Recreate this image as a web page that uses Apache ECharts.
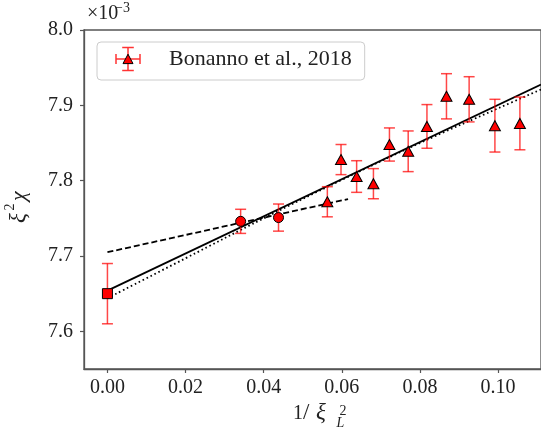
<!DOCTYPE html>
<html>
<head>
<meta charset="utf-8">
<script src="https://cdn.jsdelivr.net/npm/echarts@6/dist/echarts.min.js"></script>
<style>
  html, body { margin: 0; padding: 0; background: #fff; }
  #chart { width: 541px; height: 438px; }
</style>
</head>
<body>
<div id="chart"></div>
<script>
// Continuum point (square), finite-size points from this work (circles)
var squareX = [0];
var squareY = [7.650];
var squareErr = [0.040];

var circleX = [0.0341, 0.0438];
var circleY = [7.746, 7.751];
var circleErr = [0.016, 0.018];

// Bonanno et al., 2018 (triangles)
var triX = [0.0563, 0.0598, 0.0638, 0.0681, 0.0722, 0.0770, 0.0818, 0.0868, 0.0926, 0.0992, 0.1056];
var triY = [7.772, 7.828, 7.8055, 7.796, 7.848, 7.839, 7.872, 7.912, 7.908, 7.873, 7.876];
var triErr = [0.020, 0.020, 0.021, 0.020, 0.022, 0.027, 0.029, 0.030, 0.030, 0.035, 0.035];

// Fit curves
var linFitX = [0, 0.111];
var linFitY = [7.654, 7.9277];
var shortFitX = [0, 0.0616];
var shortFitY = [7.705, 7.7756];
var quadFitX = [0, 0.02, 0.04, 0.06, 0.08, 0.10, 0.111];
var quadFitY = [7.644, 7.697, 7.750, 7.801, 7.850, 7.896, 7.921];

// Axis ticks
var xTicks = [0, 0.02, 0.04, 0.06, 0.08, 0.10];
var xTickLabels = ['0.00', '0.02', '0.04', '0.06', '0.08', '0.10'];
var yTicks = [7.6, 7.7, 7.8, 7.9, 8.0];
var yTickLabels = ['7.6', '7.7', '7.8', '7.9', '8.0'];

var legendName = 'Bonanno et al., 2018';

function zip3(a, b, c) {
  return a.map(function (v, i) { return [v, b[i], c[i]]; });
}
function zip2(a, b) {
  return a.map(function (v, i) { return [v, b[i]]; });
}
function labelFor(ticks, labels) {
  return function (v) {
    for (var i = 0; i < ticks.length; i++) {
      if (Math.abs(ticks[i] - v) < 1e-9) return labels[i];
    }
    return '';
  };
}

var SERIF = 'Liberation Serif';
var TEXT_COLOR = '#222';
var ERR_COLOR = 'rgba(255,0,0,0.72)';
var AXIS_COLOR = '#555';

// Text placed by its baseline: canvas "middle" sits about 0.34em above it
function glyph(txt, x, baseline, size, italic) {
  return {
    type: 'text', x: x, y: baseline - 0.34 * size,
    style: {
      text: txt, fill: TEXT_COLOR, verticalAlign: 'middle', align: 'left',
      font: (italic ? 'italic ' : '') + size + 'px ' + SERIF
    }
  };
}

function renderErrorBar(params, api) {
  var x = api.value(0), y = api.value(1), e = api.value(2);
  var hi = api.coord([x, y + e]);
  var lo = api.coord([x, y - e]);
  var cap = 5.5;
  var style = { stroke: ERR_COLOR, lineWidth: 1.5 };
  return {
    type: 'group',
    children: [
      { type: 'line', shape: { x1: hi[0], y1: hi[1], x2: lo[0], y2: lo[1] }, style: style },
      { type: 'line', shape: { x1: hi[0] - cap, y1: hi[1], x2: hi[0] + cap, y2: hi[1] }, style: style },
      { type: 'line', shape: { x1: lo[0] - cap, y1: lo[1], x2: lo[0] + cap, y2: lo[1] }, style: style }
    ]
  };
}

// Legend key: triangle with both error bars
var legendSvg =
  "<svg xmlns='http://www.w3.org/2000/svg' width='44' height='28'>" +
  "<g stroke='rgba(255,0,0,0.8)' stroke-width='1.5' fill='none'>" +
  "<path d='M10 14H34M10 9V19M34 9V19M22 2.5V25.5M16.2 2.5H27.8M16.2 25.5H27.8'/></g>" +
  "<path d='M22 9.2L27 18.6H17Z' fill='#ff0000' stroke='#000' stroke-width='1'/></svg>";
var legendIcon = 'image://data:image/svg+xml;charset=utf-8,' + encodeURIComponent(legendSvg);

var chart = echarts.init(document.getElementById('chart'), null, { renderer: 'canvas' });

var option = {
  animation: false,
  backgroundColor: '#fff',
  grid: {
    left: 84, top: 30, right: -8, bottom: 69,
    show: true, borderColor: AXIS_COLOR, borderWidth: 1.3, backgroundColor: 'transparent'
  },
  legend: {
    left: 97, top: 42,
    padding: [3, 13, 7, 9],
    backgroundColor: 'rgba(255,255,255,0.85)',
    borderColor: '#cccccc', borderWidth: 1, borderRadius: 4,
    itemWidth: 44, itemHeight: 28,
    textStyle: { fontFamily: SERIF, fontSize: 22, color: TEXT_COLOR, padding: [0, 0, 0, 14] },
    data: [{ name: legendName, icon: legendIcon }]
  },
  xAxis: {
    type: 'value', min: -0.006, max: 0.111,
    axisLine: { show: true, onZero: false, lineStyle: { color: AXIS_COLOR, width: 1.3 } },
    axisTick: { show: true, length: 4, customValues: xTicks, lineStyle: { color: AXIS_COLOR, width: 1.2 } },
    axisLabel: {
      customValues: xTicks, formatter: labelFor(xTicks, xTickLabels),
      fontFamily: SERIF, fontSize: 20, color: TEXT_COLOR, margin: 9
    },
    splitLine: { show: false }
  },
  yAxis: {
    type: 'value', min: 7.55, max: 8.0,
    axisLine: { show: true, onZero: false, lineStyle: { color: AXIS_COLOR, width: 1.3 } },
    axisTick: { show: true, length: 4, customValues: yTicks, lineStyle: { color: AXIS_COLOR, width: 1.2 } },
    axisLabel: {
      customValues: yTicks, formatter: labelFor(yTicks, yTickLabels),
      fontFamily: SERIF, fontSize: 20, color: TEXT_COLOR, margin: 11
    },
    splitLine: { show: false }
  },
  graphic: [
    // scale factor above the y axis
    glyph('×10', 87, 21, 20, false),
    glyph('−3', 115, 13, 14, false),
    // y axis title: xi^2 chi, read bottom to top
    {
      type: 'group', x: 27, y: 223, rotation: Math.PI / 2,
      children: [
        glyph('ξ', 0, 0, 23, true),
        glyph('2', 12.5, -12, 14, false),
        glyph('χ', 22, 0, 22, true)
      ]
    },
    // x axis title: 1/xi_L^2
    glyph('1', 293, 421, 20, false),
    glyph('/', 303, 421, 23, false),
    glyph('ξ', 316, 421, 23, true),
    glyph('2', 339.5, 416.5, 14, false),
    glyph('L', 336.5, 428.5, 14, true)
  ],
  series: [
    {
      type: 'line', data: zip2(linFitX, linFitY), symbol: 'none', z: 2, silent: true,
      lineStyle: { color: '#000', width: 1.8, type: 'solid' }
    },
    {
      type: 'line', data: zip2(shortFitX, shortFitY), symbol: 'none', z: 2, silent: true,
      lineStyle: { color: '#000', width: 1.8, type: [6, 3] }
    },
    {
      type: 'line', data: zip2(quadFitX, quadFitY), symbol: 'none', smooth: 0.4, z: 2, silent: true,
      lineStyle: { color: '#000', width: 1.8, type: [1.6, 2.8] }
    },
    { type: 'custom', renderItem: renderErrorBar, data: zip3(squareX, squareY, squareErr), z: 3, silent: true },
    { type: 'custom', renderItem: renderErrorBar, data: zip3(circleX, circleY, circleErr), z: 3, silent: true },
    { type: 'custom', renderItem: renderErrorBar, data: zip3(triX, triY, triErr), z: 3, silent: true },
    {
      type: 'scatter', data: zip2(squareX, squareY), symbol: 'rect', symbolSize: 10, z: 4,
      itemStyle: { color: '#ff0000', borderColor: '#000', borderWidth: 1, opacity: 1 }
    },
    {
      type: 'scatter', data: zip2(circleX, circleY), symbol: 'circle', symbolSize: 10, z: 4,
      itemStyle: { color: '#ff0000', borderColor: '#000', borderWidth: 1, opacity: 1 }
    },
    {
      name: legendName,
      type: 'scatter', data: zip2(triX, triY), symbol: 'triangle', symbolSize: [11, 10], z: 4,
      itemStyle: { color: '#ff0000', borderColor: '#000', borderWidth: 1, opacity: 1 }
    }
  ]
};

chart.setOption(option);
</script>
</body>
</html>
